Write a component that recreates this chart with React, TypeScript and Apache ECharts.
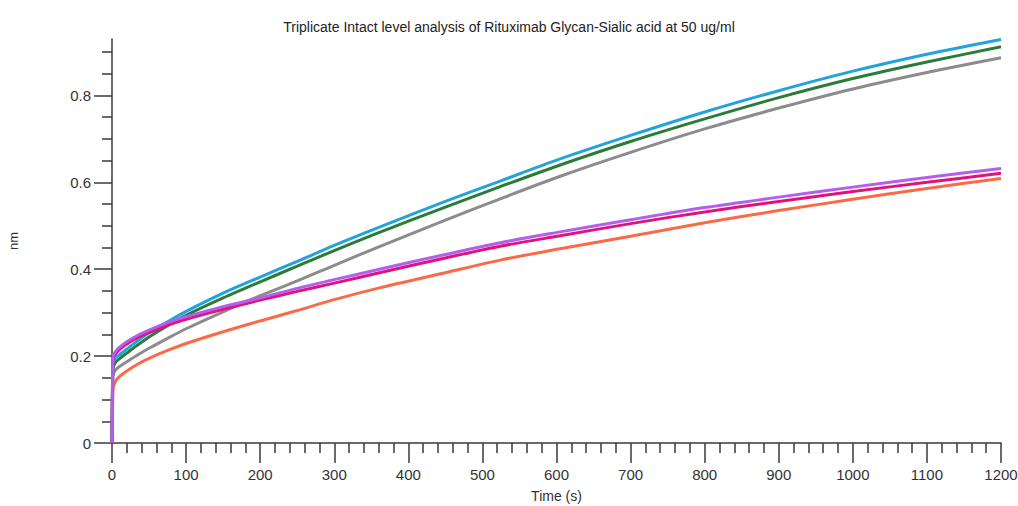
import React, { useEffect, useRef } from "react";
import * as echarts from "echarts";

const titleText = "Triplicate Intact level analysis of Rituximab Glycan-Sialic acid at 50 ug/ml";

const times = [0, 1, 2, 5, 10, 20, 35, 50, 75, 100, 150, 200, 250, 300, 361, 450, 524, 605, 700, 800, 900, 1000, 1100, 1200];

const cyanValues = [0, 0.175, 0.188, 0.196, 0.203, 0.216, 0.236, 0.254, 0.279, 0.303, 0.345, 0.382, 0.418, 0.455, 0.497, 0.556, 0.603, 0.654, 0.708, 0.762, 0.811, 0.856, 0.895, 0.929];
const greenValues = [0, 0.16, 0.176, 0.186, 0.194, 0.207, 0.226, 0.244, 0.27, 0.294, 0.334, 0.371, 0.407, 0.443, 0.485, 0.543, 0.59, 0.64, 0.694, 0.746, 0.795, 0.839, 0.877, 0.912];
const grayValues = [0, 0.15, 0.16, 0.168, 0.176, 0.187, 0.203, 0.218, 0.241, 0.263, 0.302, 0.339, 0.373, 0.409, 0.452, 0.513, 0.562, 0.614, 0.669, 0.723, 0.771, 0.815, 0.853, 0.887];
const purpleValues = [0, 0.19, 0.203, 0.211, 0.22, 0.233, 0.248, 0.26, 0.277, 0.291, 0.314, 0.334, 0.356, 0.376, 0.4, 0.434, 0.461, 0.486, 0.514, 0.542, 0.566, 0.589, 0.611, 0.632];
const magentaValues = [0, 0.185, 0.198, 0.206, 0.215, 0.228, 0.243, 0.254, 0.271, 0.285, 0.308, 0.329, 0.349, 0.368, 0.392, 0.426, 0.453, 0.477, 0.505, 0.532, 0.556, 0.579, 0.6, 0.621];
const orangeValues = [0, 0.105, 0.13, 0.143, 0.153, 0.166, 0.182, 0.195, 0.213, 0.229, 0.256, 0.281, 0.305, 0.33, 0.357, 0.392, 0.421, 0.447, 0.476, 0.507, 0.535, 0.561, 0.586, 0.609];

const yMajorTicks = [0, 0.2, 0.4, 0.6, 0.8];
const yMinorTicks = [0.05, 0.1, 0.15, 0.25, 0.3, 0.35, 0.45, 0.5, 0.55, 0.65, 0.7, 0.75, 0.85, 0.9];

const seriesDefs = [
  { name: "orange", color: "#fb6a48", values: orangeValues },
  { name: "gray", color: "#8c8c8c", values: grayValues },
  { name: "green", color: "#2b7b3b", values: greenValues },
  { name: "cyan", color: "#21a3dd", values: cyanValues },
  { name: "magenta", color: "#e0137c", values: magentaValues },
  { name: "purple", color: "#b45eee", values: purpleValues },
];

const FONT = "Liberation Sans, Arial, sans-serif";
const AXIS_COLOR = "#3a3a3a";

export default function App() {
  const ref = useRef<HTMLDivElement>(null);
  useEffect(() => {
    if (!ref.current) return;
    const chart = echarts.init(ref.current, undefined, { renderer: "svg" });
    chart.setOption({
      animation: false,
      backgroundColor: "#ffffff",
      title: {
        text: titleText,
        left: "center",
        top: 15,
        textStyle: { fontSize: 14, fontWeight: "normal", color: "#222", fontFamily: FONT },
      },
      grid: { left: 112, right: 17, top: 39, bottom: 63, outerBoundsMode: "none" },
      xAxis: {
        type: "value",
        min: 0,
        max: 1200,
        interval: 100,
        name: "Time (s)",
        nameLocation: "middle",
        nameGap: 46,
        nameTextStyle: { fontSize: 14, color: "#333", fontFamily: FONT },
        axisLine: { show: true, lineStyle: { color: AXIS_COLOR, width: 1.5 } },
        axisTick: { show: true, length: 20, lineStyle: { color: AXIS_COLOR, width: 1.5 } },
        minorTick: { show: true, splitNumber: 5, length: 10, lineStyle: { color: AXIS_COLOR, width: 1.5 } },
        splitLine: { show: false },
        minorSplitLine: { show: false },
        axisLabel: {
          fontSize: 15,
          color: "#333",
          margin: 24,
          fontFamily: FONT,
          formatter: (v: number) => String(v),
        },
      },
      yAxis: [
        {
          type: "value",
          position: "left",
          min: 0,
          max: 0.93,
          name: "nm",
          nameLocation: "middle",
          nameGap: 92,
          nameTextStyle: { fontSize: 13, color: "#333", fontFamily: FONT },
          axisLine: { show: true, lineStyle: { color: AXIS_COLOR, width: 1.5 } },
          axisTick: { show: true, length: 18, customValues: yMajorTicks, lineStyle: { color: AXIS_COLOR, width: 1.5 } },
          splitLine: { show: false },
          axisLabel: {
            fontSize: 15,
            color: "#333",
            margin: 21,
            fontFamily: FONT,
            customValues: yMajorTicks,
            formatter: (v: number) => (v === 0 ? "0" : v.toFixed(1)),
          },
        },
        {
          type: "value",
          position: "left",
          min: 0,
          max: 0.93,
          axisLine: { show: false },
          axisTick: { show: true, length: 10, customValues: yMinorTicks, lineStyle: { color: AXIS_COLOR, width: 1.5 } },
          splitLine: { show: false },
          axisLabel: { show: false },
        },
      ],
      series: seriesDefs.map((s) => ({
        name: s.name,
        type: "line",
        yAxisIndex: 0,
        showSymbol: false,
        smooth: 0.3,
        lineStyle: { color: s.color, width: 3 },
        itemStyle: { color: s.color },
        data: times.map((t, i) => [t, s.values[i]]),
      })),
    });
    return () => chart.dispose();
  }, []);
  return (
    <div
      ref={ref}
      style={{ position: "fixed", left: 0, top: 0, width: 1018, height: 506, background: "#fff" }}
    />
  );
}
